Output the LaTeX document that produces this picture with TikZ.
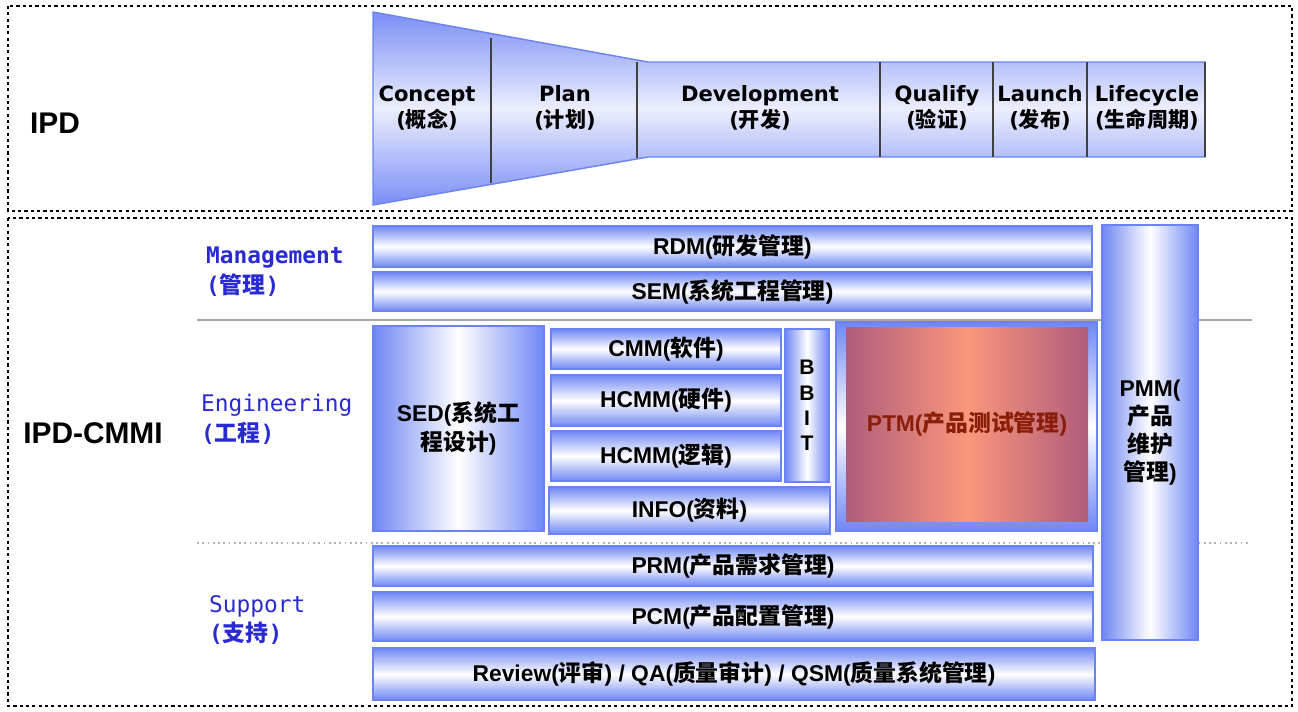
\documentclass[tikz,border=0pt]{standalone}
\usepackage{fontspec}
\setmainfont{Liberation Sans}
\newfontfamily\cjk{Noto Sans CJK SC}
\newfontfamily\verd{DejaVu Sans}
\newfontfamily\mono{DejaVu Sans Mono}

\newcommand{\zh}[1]{{\cjk #1}}

\definecolor{barblue}{HTML}{6F87F4}
\definecolor{barline}{HTML}{6A82F2}
\definecolor{funblue}{HTML}{7A8EF6}
\definecolor{funlight}{HTML}{ECEEFE}
\definecolor{lblblue}{HTML}{2A2AD2}
\definecolor{ptmedge}{HTML}{B05C7C}
\definecolor{ptmmid}{HTML}{F9977B}
\definecolor{ptmtext}{HTML}{8A1E08}

\tikzset{
  box/.style 2 args={minimum width=#1*0.02cm, minimum height=#2*0.02cm},
  hbar/.style={draw=barline, line width=1pt, top color=barblue, bottom color=barblue,
    middle color=white, inner sep=0pt, font=\bfseries\fontsize{13}{16}\selectfont},
  vbar/.style={draw=barline, line width=1pt, left color=barblue, right color=barblue,
    middle color=white, inner sep=0pt, align=center, font=\bfseries\fontsize{13}{16}\selectfont},
  phase/.style={align=center, font=\verd\bfseries\fontsize{12}{15}\selectfont},
  layer/.style={align=left, anchor=west, text=lblblue, font=\mono\fontsize{13}{17}\selectfont},
  title/.style={font=\bfseries\fontsize{17}{20}\selectfont},
  divider/.style={draw=black!75, line width=1pt},
}

\begin{document}
\begin{tikzpicture}[x=0.02cm, y=-0.02cm]
  \useasboundingbox (0,0) rectangle (1298,711);

  % frames
  \draw[dash pattern=on 1.8pt off 1.8pt, line width=0.6pt] (8,6) rectangle (1292,211);
  \draw[dash pattern=on 1.8pt off 1.8pt, line width=0.6pt] (8,218) rectangle (1292,706);
  \node[title] (ipd) at (55,123) {IPD};
  \node[title] (cmmi) at (93,433) {IPD-CMMI};

  % IPD funnel
  \shade[top color=funblue, bottom color=funblue, middle color=funlight, draw=barline, line width=0.8pt]
    (373,12) -- (648,62) -- (1205,62) -- (1205,157) -- (648,157) -- (373,205) -- cycle;
  \draw[divider] (491,38) -- (491,183);
  \draw[divider] (637,62) -- (637,158);
  \draw[divider] (880,62) -- (880,157);
  \draw[divider] (993,62) -- (993,157);
  \draw[divider] (1087,62) -- (1087,157);
  \draw[divider] (1205,62) -- (1205,157);

  \node[phase] (concept) at (427,108) {Concept\\(\zh{概念})};
  \node[phase] (plan) at (565,108) {Plan\\(\zh{计划})};
  \node[phase] (develop) at (760,108) {Development\\(\zh{开发})};
  \node[phase] (qualify) at (937,108) {Qualify\\(\zh{验证})};
  \node[phase] (launch) at (1040,108) {Launch\\(\zh{发布})};
  \node[phase] (life) at (1147,108) {Lifecycle\\(\zh{生命周期})};

  % layers
  \draw[gray!70, line width=1pt] (197,320) -- (1252,320);
  \draw[gray!60, dotted, line width=1pt] (197,543) -- (1250,543);
  \node[layer] (mgmt) at (200,272) {\bfseries Management\\\bfseries(\zh{管理})};
  \node[layer] (eng) at (195,419) {Engineering\\\bfseries(\zh{工程})};
  \node[layer] (sup) at (203,620) {Support\\\bfseries(\zh{支持})};

  % management
  \node[hbar, box={719}{41}] (rdm) at (732.5,246.5) {RDM(\zh{研发管理})};
  \node[hbar, box={719}{39}] (sem) at (732.5,291.5) {SEM(\zh{系统工程管理})};
  \node[vbar, box={96}{415}] (pmm) at (1150,432.5) {PMM(\\\zh{产品}\\\zh{维护}\\\zh{管理})};

  % engineering
  \node[vbar, box={171}{205}] (sed) at (458.5,428.5) {SED(\zh{系统工}\\\zh{程设计})};
  \node[hbar, box={230}{40}] (cmm) at (666,349) {CMM(\zh{软件})};
  \node[hbar, box={230}{51}] (hwcmm) at (666,400.5) {HCMM(\zh{硬件})};
  \node[hbar, box={230}{50}] (lgcmm) at (666,456) {HCMM(\zh{逻辑})};
  \node[vbar, box={44}{153}, font=\bfseries\fontsize{12}{14.5}\selectfont] (bbit) at (807,405.5) {B\\B\\I\\T};
  \node[hbar, box={281}{47}] (info) at (689.5,510.5) {INFO(\zh{资料})};
  \node[hbar, box={261}{209}, line width=1.5pt] (ptmframe) at (966.5,426.5) {};
  \node[box={242}{194}, inner sep=0pt, left color=ptmedge, right color=ptmedge,
    middle color=ptmmid, text=ptmtext, font=\bfseries\fontsize{13}{16}\selectfont] (ptm) at (967,424) {PTM(\zh{产品测试管理})};

  % support
  \node[hbar, box={720}{40}] (prm) at (733,566) {PRM(\zh{产品需求管理})};
  \node[hbar, box={720}{49}] (pcm) at (733,616.5) {PCM(\zh{产品配置管理})};
  \node[hbar, box={722}{52}] (review) at (734,674) {Review(\zh{评审}) / QA(\zh{质量审计}) / QSM(\zh{质量系统管理})};
\end{tikzpicture}
\end{document}
